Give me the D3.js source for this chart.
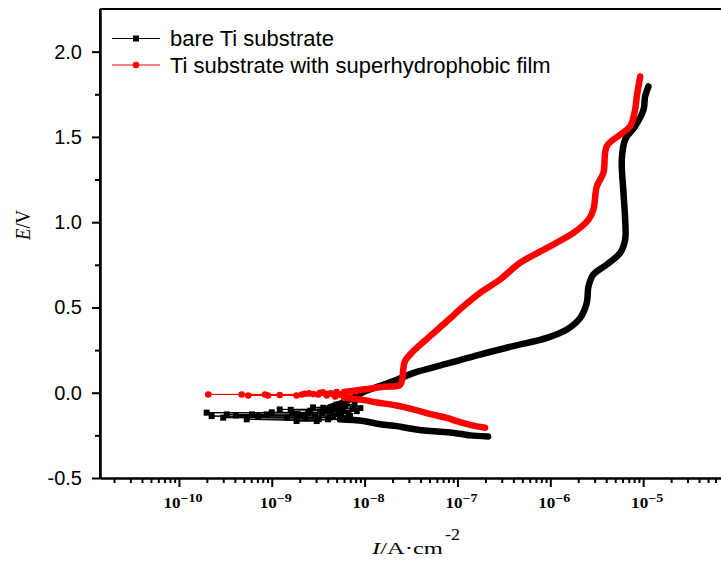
<!DOCTYPE html>
<html>
<head>
<meta charset="utf-8">
<script src="https://cdn.jsdelivr.net/npm/d3@7"></script>
<style>
  body { margin: 0; background: #fff; }
  svg { display: block; }
</style>
</head>
<body>
<div id="chart"></div>
<script>
// polarisation curves, values as [I (A/cm2), E (V)]

// bare Ti: dense parts of the sweep (markers overlap into a thick line)
const bareCathodic = [
  [2.14e-7, -0.256], [1.37e-7, -0.250], [1.15e-7, -0.244], [8.3e-8, -0.233],
  [5.07e-8, -0.225], [3.2e-8, -0.211], [2.22e-8, -0.196], [1.47e-8, -0.185],
  [9.7e-9, -0.166], [5.4e-9, -0.156]
];
// bare Ti: noisy points around the corrosion potential
const bareScatter = [
  [1.85e-9, -0.166], [3.05e-9, -0.166], [5.37e-10, -0.156], [4.03e-9, -0.156],
  [3.0e-10, -0.146], [1.45e-9, -0.146], [2.25e-10, -0.137], [7.16e-10, -0.137],
  [4.6e-9, -0.137], [5.65e-9, -0.137], [6.96e-9, -0.137], [4.11e-10, -0.133],
  [2.11e-9, -0.133], [3.27e-10, -0.127], [6.12e-10, -0.127], [8.81e-10, -0.127],
  [1.65e-9, -0.121], [1.99e-10, -0.117], [2.47e-9, -0.117], [1.0e-9, -0.115],
  [3.3e-9, -0.110], [8.22e-9, -0.108], [1.22e-9, -0.098], [3.59e-9, -0.088],
  [5.43e-9, -0.088], [2.78e-9, -0.086], [5.0e-9, -0.069], [6.41e-9, -0.059],
  [8.22e-9, -0.039], [1.6e-9, -0.100], [1.9e-9, -0.125], [2.3e-9, -0.150],
  [2.6e-9, -0.105], [2.9e-9, -0.135], [3.2e-9, -0.155], [3.5e-9, -0.120],
  [3.8e-9, -0.100], [4.2e-9, -0.145], [4.4e-9, -0.115], [4.8e-9, -0.095],
  [5.2e-9, -0.125], [5.8e-9, -0.105], [6.2e-9, -0.080], [6.7e-9, -0.120],
  [7.4e-9, -0.095], [7.8e-9, -0.070], [9.0e-9, -0.090]
];
const bareAnodic = [
  [4.2e-9, -0.086], [7.0e-9, -0.039], [1.01e-8, 0.008], [1.47e-8, 0.040],
  [2.2e-8, 0.075], [3.33e-8, 0.115], [7.7e-8, 0.170], [1.75e-7, 0.224],
  [3.97e-7, 0.273], [9.2e-7, 0.322], [1.51e-6, 0.371], [2.10e-6, 0.439],
  [2.47e-6, 0.527], [2.58e-6, 0.624], [2.91e-6, 0.693], [4.06e-6, 0.752],
  [5.65e-6, 0.820], [6.4e-6, 0.898], [6.4e-6, 1.015], [6.14e-6, 1.172],
  [5.89e-6, 1.367], [6.4e-6, 1.484], [8.2e-6, 1.562], [1.01e-5, 1.660],
  [1.05e-5, 1.738], [1.14e-5, 1.796]
];

// Ti with superhydrophobic film
const filmCathodic = [
  [1.98e-7, -0.205], [1.4e-7, -0.190], [1.0e-7, -0.168], [7.7e-8, -0.148],
  [5.0e-8, -0.124], [3.5e-8, -0.100], [2.2e-8, -0.075], [1.36e-8, -0.057],
  [9.5e-9, -0.042], [6.0e-9, -0.030]
];
const filmScatter = [
  [4.8e-9, -0.022], [3.9e-9, -0.016], [3.17e-9, -0.010], [2.28e-9, -0.006],
  [1.85e-9, -0.016], [9.1e-10, -0.016], [5.58e-10, -0.016], [2.07e-10, -0.010],
  [4.74e-10, -0.010], [8.45e-10, -0.010], [1.22e-9, -0.013], [2.11e-9, -0.010],
  [2.52e-9, -0.004], [2.8e-9, -0.008], [3.3e-9, 0.000], [3.56e-9, 0.002],
  [4.0e-9, -0.006], [4.35e-9, -0.004], [5.0e-9, 0.004], [5.5e-9, -0.012],
  [6.1e-9, 0.002], [7.0e-9, 0.006], [8.1e-9, 0.008]
];
const filmAnodic = [
  [6.0e-9, 0.005], [1.0e-8, 0.020], [1.6e-8, 0.035], [2.4e-8, 0.045],
  [2.55e-8, 0.080], [2.6e-8, 0.130], [2.72e-8, 0.185], [3.35e-8, 0.244],
  [5.07e-8, 0.332], [7.7e-8, 0.419], [1.16e-7, 0.507], [1.75e-7, 0.586],
  [2.88e-7, 0.664], [4.73e-7, 0.762], [9.2e-7, 0.849], [1.77e-6, 0.937],
  [2.58e-6, 1.015], [2.91e-6, 1.074], [3.17e-6, 1.210], [3.73e-6, 1.289],
  [4.06e-6, 1.445], [5.65e-6, 1.513], [7.24e-6, 1.562], [8.2e-6, 1.660],
  [8.55e-6, 1.738], [9.3e-6, 1.855]
];

const seriesNames = ['bare Ti substrate', 'Ti substrate with superhydrophobic film'];
const yTicks = [-0.5, 0.0, 0.5, 1.0, 1.5, 2.0];
const yMinorTicks = [-0.25, 0.25, 0.75, 1.25, 1.75];
const xTickExps = [-10, -9, -8, -7, -6, -5];

const width = 721;
const height = 564;
const margin = { left: 100, top: 9, bottom: 478, right: 736 };

const x = d3.scaleLog()
  .domain([Math.pow(10, -10.85), 1e-4])
  .range([margin.left, margin.right]);
const y = d3.scaleLinear()
  .domain([-0.5, 2.25])
  .range([margin.bottom, margin.top]);

const svg = d3.select('#chart')
  .append('svg')
  .attr('width', width)
  .attr('height', height)
  .style('font-family', '"Liberation Sans", Arial, sans-serif');

// minor log ticks: 2..9 of every decade inside the domain
const xMinor = [];
for (let e = -11; e <= -5; e++) {
  for (let m = 2; m <= 9; m++) {
    const v = m * Math.pow(10, e);
    if (v > x.domain()[0] && v < x.domain()[1]) xMinor.push(v);
  }
}
const xMajor = xTickExps.map(e => Math.pow(10, e));

const styleAxis = g => {
  g.selectAll('path.domain').attr('stroke', '#000').attr('stroke-width', 2);
  g.selectAll('.tick line').attr('stroke', '#000').attr('stroke-width', 2);
};

// x axis
svg.append('g')
  .attr('transform', `translate(0,${margin.bottom})`)
  .call(d3.axisBottom(x).tickValues(xMinor).tickSize(5).tickSizeOuter(0).tickFormat(''))
  .call(styleAxis);
svg.append('g')
  .attr('transform', `translate(0,${margin.bottom})`)
  .call(d3.axisBottom(x).tickValues(xMajor).tickSize(9).tickSizeOuter(0).tickFormat(''))
  .call(styleAxis);

// decade labels, bold serif with superscript exponent
const xLabels = svg.append('g')
  .selectAll('g')
  .data(xTickExps)
  .enter()
  .append('g')
  .attr('transform', d => `translate(${x(Math.pow(10, d)) + 4},508) scale(1.22,1)`);
const xText = xLabels.append('text')
  .attr('text-anchor', 'middle')
  .style('font-family', '"Liberation Serif", "Times New Roman", serif')
  .style('font-weight', 'bold')
  .style('font-size', '14px');
xText.append('tspan').text('10');
xText.append('tspan')
  .attr('dy', -6)
  .style('font-size', '11.5px')
  .text(d => '\u2212' + Math.abs(d));

// y axis
svg.append('g')
  .attr('transform', `translate(${margin.left},0)`)
  .call(d3.axisLeft(y).tickValues(yMinorTicks).tickSize(5).tickSizeOuter(0).tickFormat(''))
  .call(styleAxis);
svg.append('g')
  .attr('transform', `translate(${margin.left},0)`)
  .call(d3.axisLeft(y).tickValues(yTicks).tickSize(8).tickPadding(10).tickSizeOuter(0)
    .tickFormat(d => d.toFixed(1)))
  .call(styleAxis)
  .call(g => g.selectAll('text')
    .attr('fill', '#000')
    .style('font-family', '"Liberation Sans", Arial, sans-serif')
    .style('font-size', '20px'));

// frame top and left
svg.append('line')
  .attr('x1', margin.left).attr('x2', margin.right)
  .attr('y1', margin.top).attr('y2', margin.top)
  .attr('stroke', '#000').attr('stroke-width', 2);
svg.append('line')
  .attr('x1', margin.left).attr('x2', margin.left)
  .attr('y1', margin.top).attr('y2', margin.bottom)
  .attr('stroke', '#000').attr('stroke-width', 2);

// axis titles
const yTitle = svg.append('text')
  .attr('transform', 'translate(30,240) rotate(-90)')
  .attr('textLength', 30)
  .attr('lengthAdjust', 'spacingAndGlyphs')
  .style('font-family', '"Liberation Serif", "Times New Roman", serif')
  .style('font-size', '21px');
yTitle.append('tspan').style('font-style', 'italic').text('E');
yTitle.append('tspan').text('/V');

const xTitle = svg.append('text')
  .attr('x', 372)
  .attr('y', 554)
  .attr('textLength', 71)
  .attr('lengthAdjust', 'spacingAndGlyphs')
  .style('font-family', '"Liberation Serif", "Times New Roman", serif')
  .style('font-size', '17px');
xTitle.append('tspan').style('font-style', 'italic').text('I');
xTitle.append('tspan').text('/A\u00b7cm');
svg.append('text')
  .attr('x', 445)
  .attr('y', 540)
  .attr('textLength', 15)
  .attr('lengthAdjust', 'spacingAndGlyphs')
  .style('font-family', '"Liberation Serif", "Times New Roman", serif')
  .style('font-size', '17px')
  .text('-2');

// curves
const plot = svg.append('g');
const line = d3.line()
  .x(d => x(d[0]))
  .y(d => y(d[1]));
const smooth = d3.line()
  .curve(d3.curveCatmullRom)
  .x(d => x(d[0]))
  .y(d => y(d[1]));

const drawSeries = (cathodic, scatter, anodic, color, shape) => {
  // scan order follows the potential
  const noisy = scatter.slice().sort((a, b) => a[1] - b[1]);
  // thin connecting line through the whole sweep
  plot.append('path')
    .attr('d', line(cathodic.concat(noisy, anodic)))
    .attr('fill', 'none')
    .attr('stroke', color)
    .attr('stroke-width', 1);
  // dense parts: overlapping markers look like a thick stroke
  [cathodic, anodic].forEach(part => {
    plot.append('path')
      .attr('d', smooth(part))
      .attr('fill', 'none')
      .attr('stroke', color)
      .attr('stroke-width', 6.5)
      .attr('stroke-linecap', 'round')
      .attr('stroke-linejoin', 'round');
  });
  const marks = plot.selectAll(null)
    .data(noisy)
    .enter();
  if (shape === 'square') {
    marks.append('rect')
      .attr('x', d => x(d[0]) - 3)
      .attr('y', d => y(d[1]) - 3)
      .attr('width', 6)
      .attr('height', 6)
      .attr('fill', color);
  } else {
    marks.append('circle')
      .attr('cx', d => x(d[0]))
      .attr('cy', d => y(d[1]))
      .attr('r', 3.3)
      .attr('fill', color);
  }
};

drawSeries(bareCathodic, bareScatter, bareAnodic, '#000', 'square');
drawSeries(filmCathodic, filmScatter, filmAnodic, '#ff0000', 'circle');

// legend
const legend = svg.append('g')
  .selectAll('g')
  .data(seriesNames)
  .enter()
  .append('g')
  .attr('transform', (d, i) => `translate(0,${38.5 + i * 26.5})`);
legend.append('line')
  .attr('x1', 112).attr('x2', 160)
  .attr('stroke', (d, i) => i === 0 ? '#000' : '#ff0000')
  .attr('stroke-width', 1);
legend.filter((d, i) => i === 0).append('rect')
  .attr('x', 133).attr('y', -3).attr('width', 6).attr('height', 6)
  .attr('fill', '#000');
legend.filter((d, i) => i === 1).append('circle')
  .attr('cx', 136).attr('r', 3.3)
  .attr('fill', '#ff0000');
legend.append('text')
  .attr('x', 170)
  .attr('y', 7.5)
  .style('font-size', '22px')
  .text(d => d);
</script>
</body>
</html>
